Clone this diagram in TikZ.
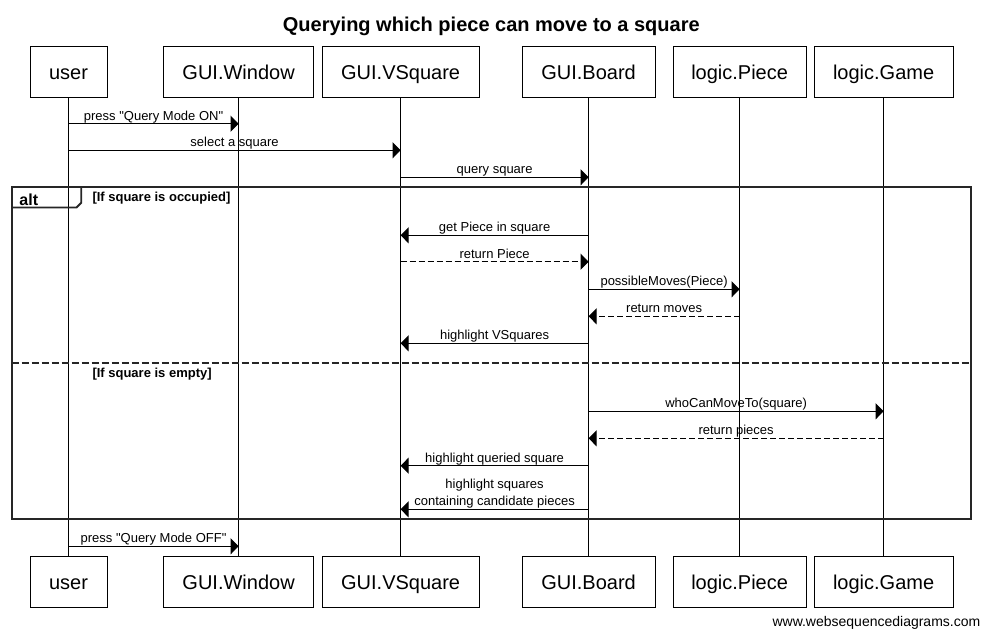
\documentclass[tikz,border=0pt]{standalone}
\usepackage{fontspec}
\setmainfont{Liberation Sans}[Ligatures=TeXOff]
\usetikzlibrary{arrows.meta}
\begin{document}
\begin{tikzpicture}[x=1pt,y=-1pt,
  part/.style={draw, line width=1pt, minimum height=51pt, inner sep=0pt,
    font=\fontsize{20}{24}\selectfont, text height=14pt, text depth=0pt},
  life/.style={line width=1pt},
  msg/.style={line width=1pt, -{Triangle[length=8pt,width=16pt]}},
  ret/.style={msg, dash pattern=on 6pt off 3pt},
  lbl/.style={anchor=base, yshift=3.5pt, inner sep=0pt, font=\fontsize{13}{17}\selectfont},
  guard/.style={anchor=base west, inner sep=0pt, font=\fontsize{13}{16}\selectfont\bfseries},
  frame/.style={line width=2pt, black!85},
]
\useasboundingbox (0,0) rectangle (981,629);

% title
\node[anchor=base, inner sep=0pt, font=\fontsize{20}{24}\selectfont\bfseries] (title) at (491.3,31) {Querying which piece can move to a square};

% participants (top)
\node[part, minimum width=77pt]  (user) at (68.5,72) {user};
\node[part, minimum width=150pt] (win)  at (238.6,72) {GUI.Window};
\node[part, minimum width=157pt] (vsq)  at (400.6,72) {GUI.VSquare};
\node[part, minimum width=133pt] (brd)  at (588.6,72) {GUI.Board};
\node[part, minimum width=133pt] (pce)  at (739.6,72) {logic.Piece};
\node[part, minimum width=139pt] (gam)  at (883.6,72) {logic.Game};
% participants (bottom)
\node[part, minimum width=77pt]  (user2) at (68.5,582) {user};
\node[part, minimum width=150pt] (win2)  at (238.6,582) {GUI.Window};
\node[part, minimum width=157pt] (vsq2)  at (400.6,582) {GUI.VSquare};
\node[part, minimum width=133pt] (brd2)  at (588.6,582) {GUI.Board};
\node[part, minimum width=133pt] (pce2)  at (739.6,582) {logic.Piece};
\node[part, minimum width=139pt] (gam2)  at (883.6,582) {logic.Game};

% lifelines
\foreach \a in {user,win,vsq,brd,pce,gam}
  \draw[life] (\a.south) -- (\a2.north);

% alt frame
\draw[frame] (11.7,187.3) rectangle (971,519);
\draw[frame, line width=1.8pt] (11.7,207.5) -- (76.5,207.5) -- (81.3,202.7) -- (81.3,187.3);
\node[anchor=base west, inner sep=0pt, font=\fontsize{16}{18}\selectfont\bfseries] (alt) at (19.3,205) {alt};
\node[guard] (g1) at (92.3,201) {[If square is occupied]};
\draw[frame, dash pattern=on 7pt off 3pt] (11.7,363) -- (971,363);
\node[guard] (g2) at (92.3,377) {[If square is empty]};

% message rows
\coordinate (r1) at (0,123.7);
\coordinate (r2) at (0,150.3);
\coordinate (r3) at (0,177.3);
\coordinate (r4) at (0,235.3);
\coordinate (r5) at (0,261.7);
\coordinate (r6) at (0,289.3);
\coordinate (r7) at (0,316.3);
\coordinate (r8) at (0,343.3);
\coordinate (r9) at (0,411.3);
\coordinate (r10) at (0,438.3);
\coordinate (r11) at (0,465.7);
\coordinate (r12) at (0,509.3);
\coordinate (r13) at (0,546.3);

\draw[msg] (user |- r1) -- node[lbl]{press "Query Mode ON"} (win |- r1);
\draw[msg] (user |- r2) -- node[lbl]{select a square} (vsq |- r2);
\draw[msg] (vsq |- r3) -- node[lbl]{query square} (brd |- r3);
\draw[msg] (brd |- r4) -- node[lbl]{get Piece in square} (vsq |- r4);
\draw[ret] (vsq |- r5) -- node[lbl]{return Piece} (brd |- r5);
\draw[msg] (brd |- r6) -- node[lbl]{possibleMoves(Piece)} (pce |- r6);
\draw[ret] (pce |- r7) -- node[lbl]{return moves} (brd |- r7);
\draw[msg] (brd |- r8) -- node[lbl]{highlight VSquares} (vsq |- r8);
\draw[msg] (brd |- r9) -- node[lbl]{whoCanMoveTo(square)} (gam |- r9);
\draw[ret] (gam |- r10) -- node[lbl]{return pieces} (brd |- r10);
\draw[msg] (brd |- r11) -- node[lbl]{highlight queried square} (vsq |- r11);
\draw[msg] (brd |- r12) -- node[anchor=south, yshift=1pt, inner sep=0pt, align=center, font=\fontsize{13}{17}\selectfont]{highlight squares\\containing candidate pieces} (vsq |- r12);
\draw[msg] (user |- r13) -- node[lbl]{press "Query Mode OFF"} (win |- r13);

% watermark
\node[anchor=base east, inner sep=0pt, font=\fontsize{14}{16}\selectfont] (wm) at (980.5,626) {www.websequencediagrams.com};
\end{tikzpicture}
\end{document}
